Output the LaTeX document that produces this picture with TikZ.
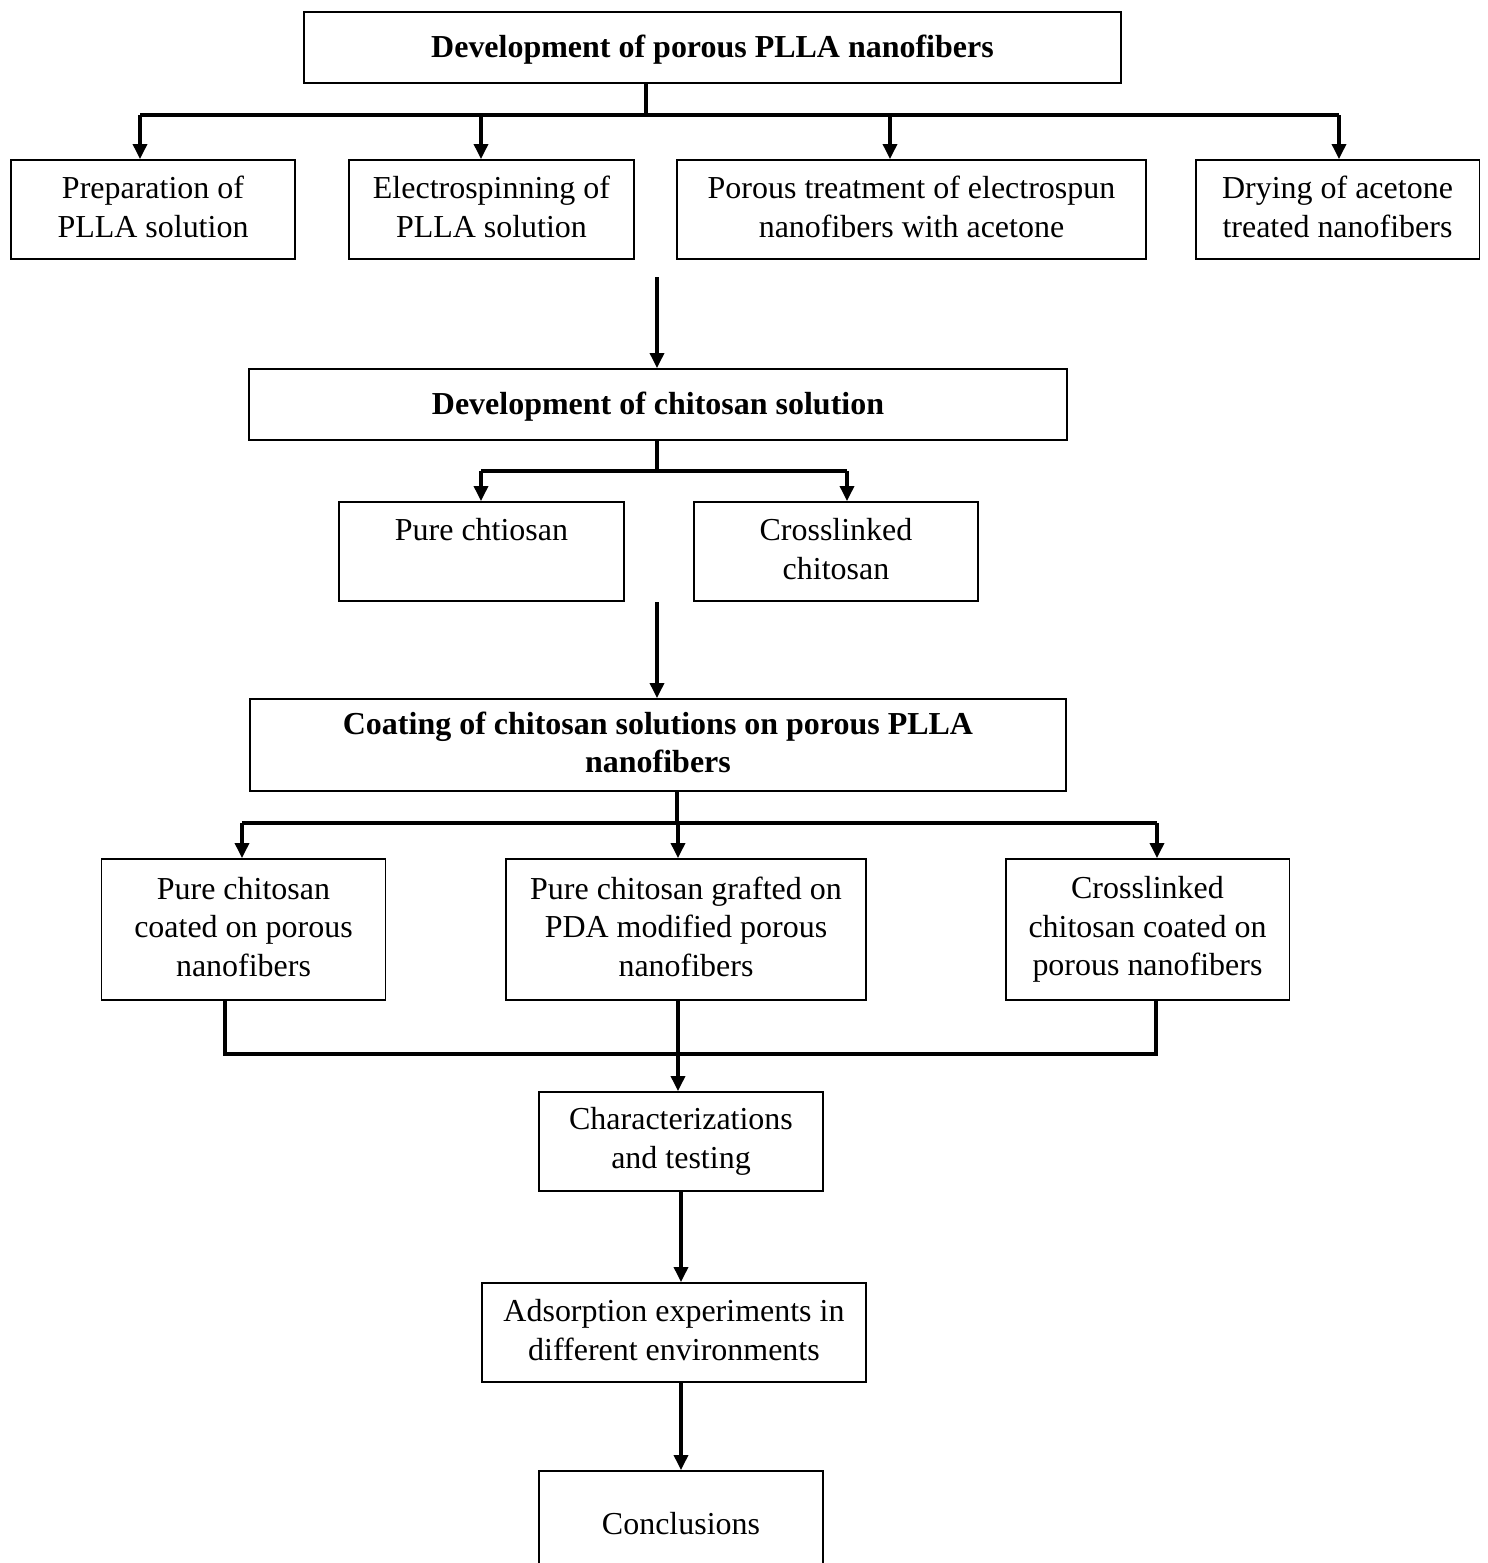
\documentclass[tikz,border=0pt]{standalone}
\usepackage{fontspec}
\setmainfont{Liberation Serif}
\usetikzlibrary{arrows.meta,positioning}
\newcommand\boxstrut{\rule[-3.2pt]{0pt}{22.4pt}}
\newcommand\headstrut{\rule[-7.8pt]{0pt}{22.4pt}}
\tikzset{
  stepbox/.style={
    draw=black, line width=1.1pt, fill=white, align=center,
    inner sep=0pt, font=\fontsize{18.2}{22}\selectfont,
    execute at begin node=\boxstrut, execute at end node=\boxstrut
  },
  headbox/.style={stepbox, font=\fontsize{18.2}{22}\selectfont\bfseries},
  headline/.style={headbox,
    execute at begin node=\headstrut, execute at end node=\headstrut},
  link/.style={line width=1.9pt, draw=black},
  flow/.style={link, -{Triangle[length=3mm,width=2.8mm]}}
}
\begin{document}
\begin{tikzpicture}[x=0.02cm,y=-0.02cm]
  \useasboundingbox (0,0) rectangle (1488,1563);
  \clip (0,0) rectangle (1488,1563);
  % first stage
  \node[headline,minimum width=16.34cm,minimum height=1.42cm] (top) at (712.5,47.5) {Development of porous PLLA nanofibers};
  \node[stepbox,minimum width=5.68cm,minimum height=1.98cm] (prep) at (153,209.5) {Preparation of\\PLLA solution};
  \node[stepbox,minimum width=5.70cm,minimum height=1.98cm] (elec) at (491.5,209.5) {Electrospinning of\\PLLA solution};
  \node[stepbox,minimum width=9.38cm,minimum height=1.98cm] (porous) at (911.5,209.5) {Porous treatment of electrospun\\nanofibers with acetone};
  \node[stepbox,minimum width=5.68cm,minimum height=1.98cm] (dry) at (1337.5,209.5) {Drying of acetone\\treated nanofibers};
  % second stage
  \node[headline,minimum width=16.36cm,minimum height=1.42cm] (chit) at (658,404.5) {Development of chitosan solution};
  \node[stepbox,minimum width=5.70cm,minimum height=1.98cm] (pure) at (481.5,551.5) {Pure chtiosan\\~};
  \node[stepbox,minimum width=5.68cm,minimum height=1.98cm] (cross) at (836,551.5) {Crosslinked\\chitosan};
  % third stage
  \node[headbox,minimum width=16.32cm,minimum height=1.84cm] (coat) at (658,745) {Coating of chitosan solutions on porous PLLA\\nanofibers};
  \node[stepbox,minimum width=5.68cm,minimum height=2.82cm] (pcoat) at (243.5,929.5) {Pure chitosan\\coated on porous\\nanofibers};
  \node[stepbox,minimum width=7.20cm,minimum height=2.82cm] (pda) at (686,929.5) {Pure chitosan grafted on\\PDA modified porous\\nanofibers};
  \node[stepbox,minimum width=5.68cm,minimum height=2.82cm] (xcoat) at (1147.5,929.5) {Crosslinked\\chitosan coated on\\porous nanofibers};
  % last stage
  \node[stepbox,minimum width=5.68cm,minimum height=1.98cm] (char) at (681,1141.5) {Characterizations\\and testing};
  \node[stepbox,minimum width=7.69cm,minimum height=1.98cm] (ads) at (674,1332.5) {Adsorption experiments in\\different environments};
  \node[stepbox,minimum width=5.68cm,minimum height=1.98cm] (concl) at (681,1520.5) {Conclusions};
  % branch points
  \coordinate (t0) at (646,115);
  \coordinate (t1) at (140,115);
  \coordinate (t2) at (481,115);
  \coordinate (t3) at (890,115);
  \coordinate (t4) at (1339,115);
  \coordinate (s1) at (657,277);
  \coordinate (c0) at (657,471);
  \coordinate (c1) at (481,471);
  \coordinate (c2) at (847,471);
  \coordinate (s2) at (657,602);
  \coordinate (k0) at (677,823);
  \coordinate (k1) at (242,823);
  \coordinate (k2) at (678,823);
  \coordinate (k3) at (1157,823);
  \coordinate (m1) at (225,1054);
  \coordinate (m2) at (678,1054);
  \coordinate (m3) at (1156,1054);
  % connectors
  \draw[link] (top.south -| t0) -- (t0);
  \draw[link] (t1) -- (t4);
  \foreach \c/\n in {t1/prep,t2/elec,t3/porous,t4/dry}
    \draw[flow] (\c) -- (\c |- \n.north);
  \draw[flow] (s1) -- (s1 |- chit.north);
  \draw[link] (chit.south -| c0) -- (c0);
  \draw[link] (c1) -- (c2);
  \draw[flow] (c1) -- (c1 |- pure.north);
  \draw[flow] (c2) -- (c2 |- cross.north);
  \draw[flow] (s2) -- (s2 |- coat.north);
  \draw[link] (coat.south -| k0) -- (k0);
  \draw[link] (k1) -- (k3);
  \foreach \c/\n in {k1/pcoat,k2/pda,k3/xcoat}
    \draw[flow] (\c) -- (\c |- \n.north);
  \draw[link] (pcoat.south -| m1) -- (m1) -- (m3) -- (xcoat.south -| m3);
  \draw[flow] (pda.south -| m2) -- (m2 |- char.north);
  \draw[flow] (char.south) -- (char.south |- ads.north);
  \draw[flow] (ads.south -| concl.north) -- (concl.north);
\end{tikzpicture}
\end{document}
